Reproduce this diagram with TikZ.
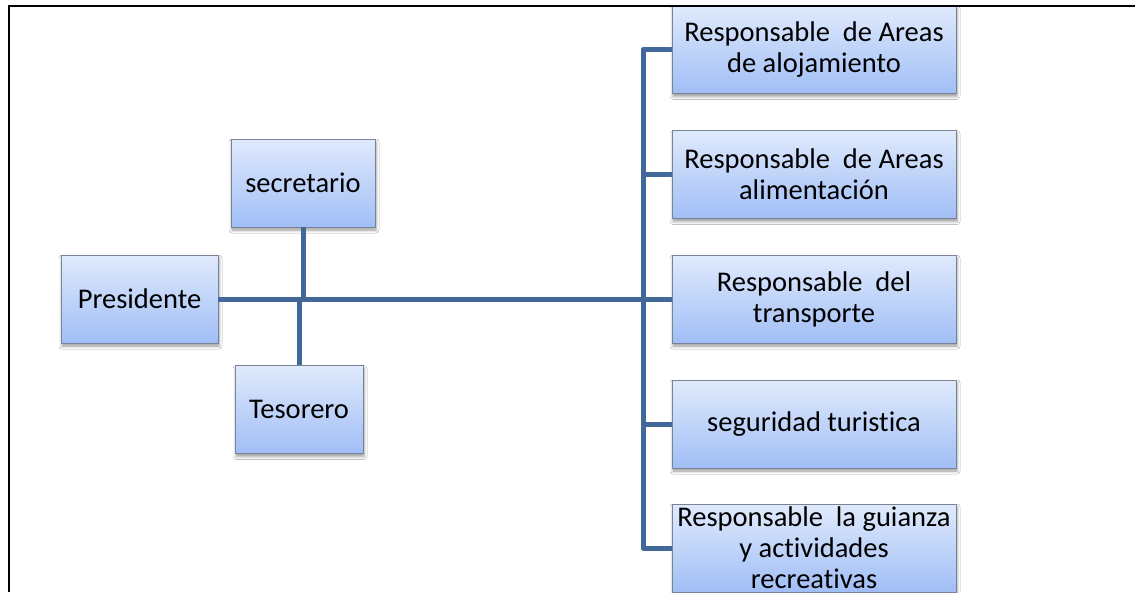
\documentclass[tikz,border=0pt]{standalone}
\usepackage{fontspec}
\setmainfont{Carlito}[Ligatures=CommonOff]
\usetikzlibrary{shadows,shadows.blur}
\definecolor{linec}{RGB}{66,104,154}
\definecolor{boxtop}{RGB}{224,234,252}
\definecolor{boxbot}{RGB}{160,190,246}
\definecolor{boxdraw}{RGB}{120,132,150}
\tikzset{
  orgbox/.style={rectangle, draw=boxdraw, line width=0.9pt, top color=boxtop, bottom color=boxbot,
    inner sep=0pt, align=center, font=\fontsize{28.5}{31}\selectfont,
    blur shadow={shadow xshift=1pt, shadow yshift=-3pt, shadow blur radius=3pt, shadow opacity=40}},
  conn/.style={draw=linec, line width=5pt, line join=round},
}
\begin{document}
\begin{tikzpicture}[x=1pt,y=-1pt]
\useasboundingbox (0,0) rectangle (1135,592);
\fill[white] (0,0) rectangle (1135,592);
% boxes
\node[orgbox, minimum width=144pt, minimum height=88pt] (sec) at (303,183) {secretario};
\node[orgbox, minimum width=157pt, minimum height=88pt] (pres) at (139.5,299) {Presidente};
\node[orgbox, minimum width=128pt, minimum height=88pt] (tes) at (299,409.5) {Tesorero};
\node[orgbox, minimum width=284pt, minimum height=88pt] (r1) at (814,49.5) {Responsable\ \ de Areas\\de alojamiento};
\node[orgbox, minimum width=284pt, minimum height=88pt] (r2) at (814,174.5) {Responsable\ \ de Areas\\alimentación};
\node[orgbox, minimum width=284pt, minimum height=88pt] (r3) at (814,299) {Responsable\ \ del\\transporte};
\node[orgbox, minimum width=284pt, minimum height=88pt] (r4) at (814,424) {seguridad turistica};
\node[orgbox, minimum width=284pt, minimum height=88pt] (r5) at (814,548) {Responsable\ \ la guianza\\y actividades\\recreativas};
% connectors
\coordinate (bx) at (643,0);
\draw[conn] (r1.west) -- (r1.west -| bx) -- (r5.west -| bx) -- (r5.west);
\draw[conn] (r2.west) -- (r2.west -| bx);
\draw[conn] (r4.west) -- (r4.west -| bx);
\draw[conn] (pres.east) -- (r3.west);
\draw[conn] (sec.south) -- (sec.south |- pres.east);
\draw[conn] (tes.north) -- (tes.north |- pres.east);
% frame
\draw[black, line width=2pt] (9,592) -- (9,5.5) -- (1135,5.5);
\end{tikzpicture}
\end{document}
